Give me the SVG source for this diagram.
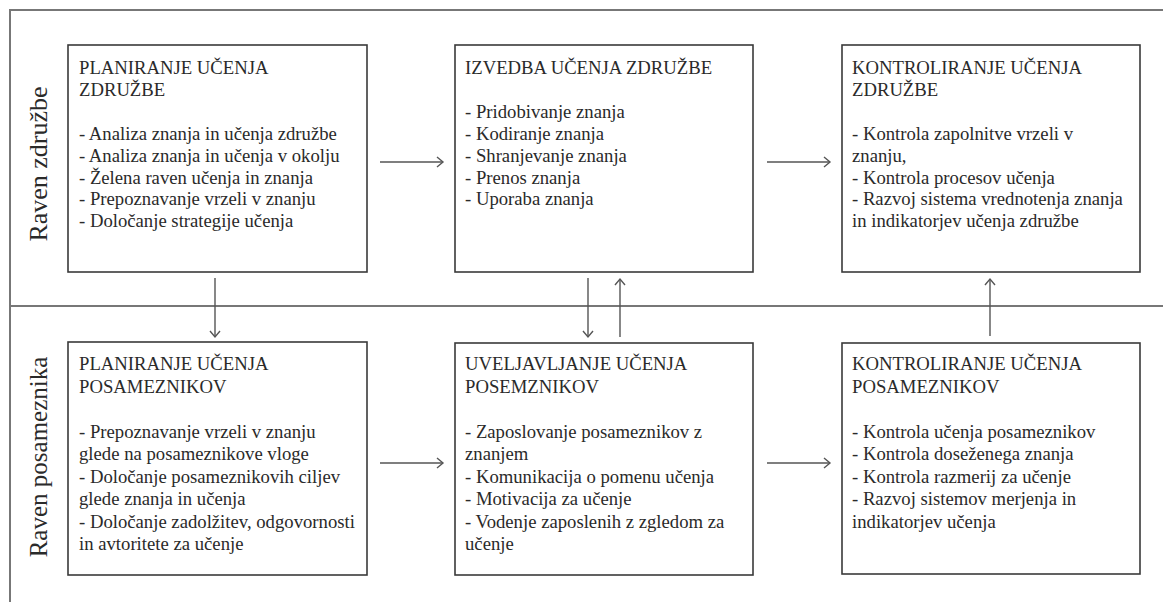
<svg xmlns="http://www.w3.org/2000/svg" width="1163" height="602" viewBox="0 0 1163 602">
<style>
.frame{stroke:#777;stroke-width:2;fill:none}
.box{fill:#fff;stroke:#3a3a3a;stroke-width:1.6}
.t{font-family:"Liberation Serif","Times New Roman",serif;font-size:18.7px;fill:#2a2a2a}
.lbl{font-family:"Liberation Serif","Times New Roman",serif;font-size:26px;fill:#2a2a2a}
.c{stroke:#555;stroke-width:1.4;fill:none}
</style>
<defs>
<marker id="ah" markerWidth="12" markerHeight="12" refX="10" refY="6" orient="auto" markerUnits="userSpaceOnUse">
<path d="M4,1 L10,6 L4,11" fill="none" stroke="#555" stroke-width="1.4"/>
</marker>
</defs>
<rect width="1163" height="602" fill="#fff"/>
<g id="frame">
<line class="frame" x1="10" y1="10" x2="1163" y2="10"/>
<line class="frame" x1="10" y1="306" x2="1163" y2="306"/>
<line class="frame" x1="10" y1="9" x2="10" y2="602"/>
</g>
<g id="lane-labels">
<text class="lbl" transform="translate(47,164) rotate(-90)" text-anchor="middle">Raven združbe</text>
<text class="lbl" transform="translate(47,457) rotate(-90)" text-anchor="middle" style="font-size:25px">Raven posameznika</text>
</g>
<g id="connectors">
<line class="c" x1="380" y1="162" x2="443" y2="162" marker-end="url(#ah)"/>
<line class="c" x1="767" y1="162" x2="830" y2="162" marker-end="url(#ah)"/>
<line class="c" x1="380" y1="463" x2="443" y2="463" marker-end="url(#ah)"/>
<line class="c" x1="767" y1="463" x2="830" y2="463" marker-end="url(#ah)"/>
<line class="c" x1="215" y1="278" x2="215" y2="337" marker-end="url(#ah)"/>
<line class="c" x1="588" y1="278" x2="588" y2="337" marker-end="url(#ah)"/>
<line class="c" x1="620" y1="337" x2="620" y2="279" marker-end="url(#ah)"/>
<line class="c" x1="990" y1="336" x2="990" y2="279" marker-end="url(#ah)"/>
</g>
<g id="n1">
<rect class="box" x="68" y="45" width="299" height="227"/>
<text class="t" x="79" y="74">PLANIRANJE UČENJA</text>
<text class="t" x="79" y="96">ZDRUŽBE</text>
<text class="t" x="79" y="140">- Analiza znanja in učenja združbe</text>
<text class="t" x="79" y="162">- Analiza znanja in učenja v okolju</text>
<text class="t" x="79" y="183.5">- Želena raven učenja in znanja</text>
<text class="t" x="79" y="205">- Prepoznavanje vrzeli v znanju</text>
<text class="t" x="79" y="227">- Določanje strategije učenja</text>
</g>
<g id="n2">
<rect class="box" x="455" y="45" width="298" height="227"/>
<text class="t" x="465" y="74">IZVEDBA UČENJA ZDRUŽBE</text>
<text class="t" x="465" y="118">- Pridobivanje znanja</text>
<text class="t" x="465" y="140">- Kodiranje znanja</text>
<text class="t" x="465" y="162">- Shranjevanje znanja</text>
<text class="t" x="465" y="183.5">- Prenos znanja</text>
<text class="t" x="465" y="205">- Uporaba znanja</text>
</g>
<g id="n3">
<rect class="box" x="842" y="45" width="298" height="227"/>
<text class="t" x="852" y="74">KONTROLIRANJE UČENJA</text>
<text class="t" x="852" y="96">ZDRUŽBE</text>
<text class="t" x="852" y="140">- Kontrola zapolnitve vrzeli v</text>
<text class="t" x="852" y="162">znanju,</text>
<text class="t" x="852" y="183.5">- Kontrola procesov učenja</text>
<text class="t" x="852" y="205">- Razvoj sistema vrednotenja znanja</text>
<text class="t" x="852" y="227">in indikatorjev učenja združbe</text>
</g>
<g id="n4">
<rect class="box" x="68" y="342" width="299" height="233"/>
<text class="t" x="79" y="370">PLANIRANJE UČENJA</text>
<text class="t" x="79" y="392.5">POSAMEZNIKOV</text>
<text class="t" x="79" y="437.5">- Prepoznavanje vrzeli v znanju</text>
<text class="t" x="79" y="460">glede na posameznikove vloge</text>
<text class="t" x="79" y="482.5">- Določanje posameznikovih ciljev</text>
<text class="t" x="79" y="505">glede znanja in učenja</text>
<text class="t" x="79" y="527.5">- Določanje zadolžitev, odgovornosti</text>
<text class="t" x="79" y="550">in avtoritete za učenje</text>
</g>
<g id="n5">
<rect class="box" x="455" y="343" width="298" height="232"/>
<text class="t" x="465" y="370">UVELJAVLJANJE UČENJA</text>
<text class="t" x="465" y="392.5">POSEMZNIKOV</text>
<text class="t" x="465" y="437.5">- Zaposlovanje posameznikov z</text>
<text class="t" x="465" y="460">znanjem</text>
<text class="t" x="465" y="482.5">- Komunikacija o pomenu učenja</text>
<text class="t" x="465" y="505">- Motivacija za učenje</text>
<text class="t" x="465" y="527.5">- Vodenje zaposlenih z zgledom za</text>
<text class="t" x="465" y="550">učenje</text>
</g>
<g id="n6">
<rect class="box" x="842" y="343" width="298" height="231"/>
<text class="t" x="852" y="370">KONTROLIRANJE UČENJA</text>
<text class="t" x="852" y="392.5">POSAMEZNIKOV</text>
<text class="t" x="852" y="437.5">- Kontrola učenja posameznikov</text>
<text class="t" x="852" y="460">- Kontrola doseženega znanja</text>
<text class="t" x="852" y="482.5">- Kontrola razmerij za učenje</text>
<text class="t" x="852" y="505">- Razvoj sistemov merjenja in</text>
<text class="t" x="852" y="527.5">indikatorjev učenja</text>
</g>
</svg>
